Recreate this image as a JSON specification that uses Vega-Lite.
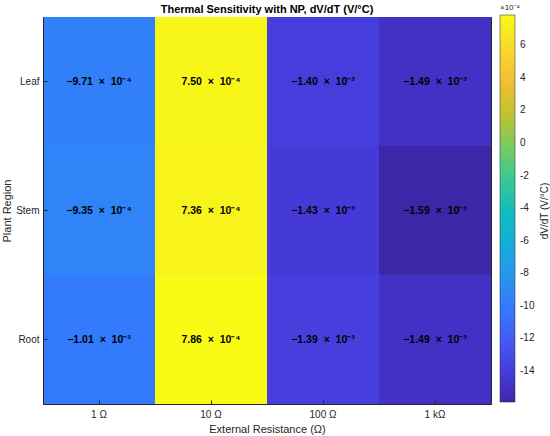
{
  "$schema": "https://vega.github.io/schema/vega-lite/v6.json",
  "width": 448,
  "height": 387,
  "autosize": {"type": "none"},
  "padding": {"left": 43, "top": 17, "right": 59, "bottom": 32},
  "background": "white",
  "title": {"text": "Thermal Sensitivity with NP, dV/dT (V/°C)", "fontSize": 11, "fontWeight": "bold", "font": "Liberation Sans", "color": "#000000", "anchor": "middle", "frame": "group", "offset": -11},
  "data": {"values": [
    {"region": "Leaf", "resistance": "1 Ω", "value": -9.71, "label": "−9.71\u00a0 ×\u00a0 10⁻⁴"},
    {"region": "Leaf", "resistance": "10 Ω", "value": 7.50, "label": "7.50\u00a0 ×\u00a0 10⁻⁴"},
    {"region": "Leaf", "resistance": "100 Ω", "value": -14.0, "label": "−1.40\u00a0 ×\u00a0 10⁻³"},
    {"region": "Leaf", "resistance": "1 kΩ", "value": -14.9, "label": "−1.49\u00a0 ×\u00a0 10⁻³"},
    {"region": "Stem", "resistance": "1 Ω", "value": -9.35, "label": "−9.35\u00a0 ×\u00a0 10⁻⁴"},
    {"region": "Stem", "resistance": "10 Ω", "value": 7.36, "label": "7.36\u00a0 ×\u00a0 10⁻⁴"},
    {"region": "Stem", "resistance": "100 Ω", "value": -14.3, "label": "−1.43\u00a0 ×\u00a0 10⁻³"},
    {"region": "Stem", "resistance": "1 kΩ", "value": -15.9, "label": "−1.59\u00a0 ×\u00a0 10⁻³"},
    {"region": "Root", "resistance": "1 Ω", "value": -10.1, "label": "−1.01\u00a0 ×\u00a0 10⁻³"},
    {"region": "Root", "resistance": "10 Ω", "value": 7.86, "label": "7.86\u00a0 ×\u00a0 10⁻⁴"},
    {"region": "Root", "resistance": "100 Ω", "value": -13.9, "label": "−1.39\u00a0 ×\u00a0 10⁻³"},
    {"region": "Root", "resistance": "1 kΩ", "value": -14.9, "label": "−1.49\u00a0 ×\u00a0 10⁻³"}
  ]},
  "config": {
    "view": {"stroke": "#262626", "strokeWidth": 1},
    "axis": {"labelFont": "Liberation Sans", "titleFont": "Liberation Sans", "labelFontSize": 10, "titleFontSize": 11, "labelColor": "#262626", "titleColor": "#262626", "titleFontWeight": "normal", "domainColor": "#262626", "tickColor": "#262626", "grid": false}
  },
  "layer": [
    {
      "mark": {"type": "rect"},
      "encoding": {
        "x": {"field": "resistance", "type": "nominal", "sort": ["1 Ω", "10 Ω", "100 Ω", "1 kΩ"], "scale": {"paddingInner": 0, "paddingOuter": 0},
          "axis": {"orient": "bottom", "title": "External Resistance (Ω)", "labelAngle": 0, "tickSize": -4, "labelPadding": 9, "titlePadding": 4}},
        "y": {"field": "region", "type": "nominal", "sort": ["Leaf", "Stem", "Root"], "scale": {"paddingInner": 0, "paddingOuter": 0},
          "axis": {"orient": "left", "title": "Plant Region", "tickSize": -4, "labelPadding": 8, "titlePadding": 3}},
        "color": {"field": "value", "type": "quantitative",
          "scale": {"domain": [-15.9, 7.86], "interpolate": "rgb", "range": ["#3e26a8", "#4537d5", "#484df0", "#4563fd", "#327cfc", "#2b91ef", "#20a5e3", "#08b5d0", "#12beb9", "#31c69f", "#57cc7a", "#8fcb4e", "#c5c22a", "#f0ba36", "#fec934", "#f5e327", "#f9fb15"]},
          "legend": {"orient": "none", "legendX": 457, "legendY": -13, "title": "×10⁻⁴", "titleFontSize": 8, "titleFont": "Liberation Sans", "titleFontWeight": "normal", "titleColor": "#262626", "titlePadding": 3, "gradientLength": 387, "gradientThickness": 15, "direction": "vertical", "values": [-14, -12, -10, -8, -6, -4, -2, 0, 2, 4, 6], "labelFontSize": 10, "labelColor": "#262626", "labelFont": "Liberation Sans", "gradientStrokeColor": "#262626", "gradientStrokeWidth": 0.5, "padding": 0, "labelOffset": 5, "labelExpr": "replace(datum.label, '−', '-')"}}
      }
    },
    {
      "mark": {"type": "text", "font": "Liberation Sans", "fontWeight": "bold", "fontSize": 10.5, "color": "#000000"},
      "encoding": {
        "x": {"field": "resistance", "type": "nominal", "sort": ["1 Ω", "10 Ω", "100 Ω", "1 kΩ"],
          "axis": {"orient": "top", "labels": false, "title": null, "tickSize": -4}},
        "y": {"field": "region", "type": "nominal", "sort": ["Leaf", "Stem", "Root"],
          "axis": {"orient": "right", "labels": false, "ticks": false, "domain": false, "title": "dV/dT (V/°C)", "titleAngle": 270, "titleFontSize": 10, "offset": 58, "titlePadding": 0}},
        "text": {"field": "label"}
      }
    }
  ],
  "resolve": {"axis": {"x": "independent", "y": "independent"}}
}
